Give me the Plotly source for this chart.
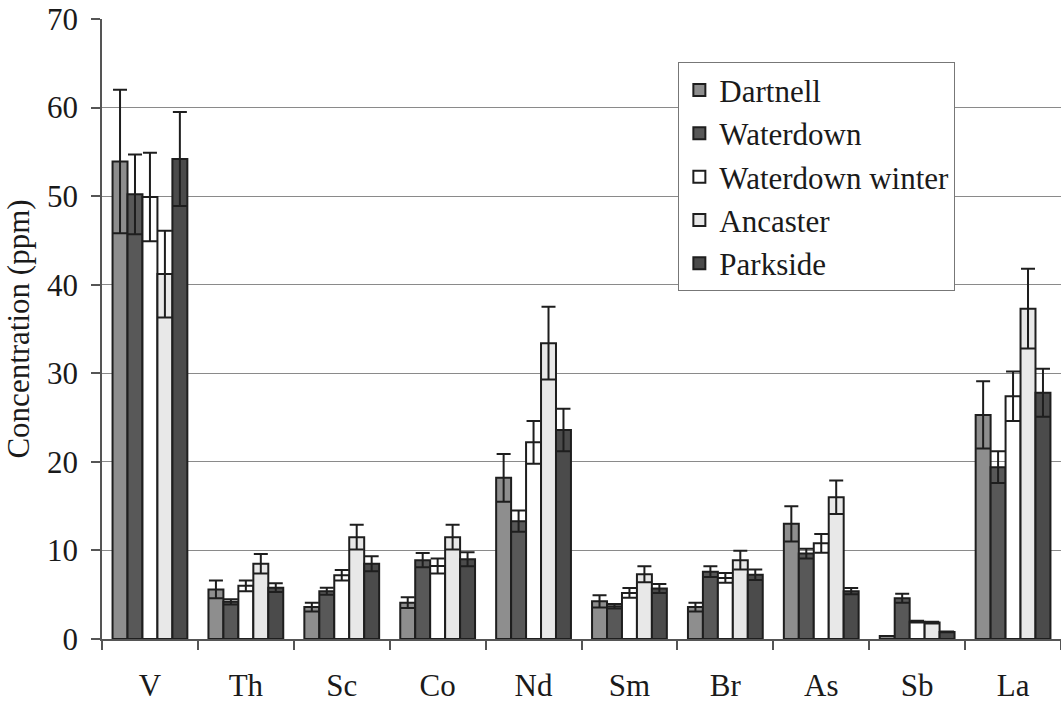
import plotly.graph_objects as go

elements = ["V", "Th", "Sc", "Co", "Nd", "Sm", "Br", "As", "Sb", "La"]

series_names = ["Dartnell", "Waterdown", "Waterdown winter", "Ancaster", "Parkside"]

dartnell = [53.9, 5.6, 3.6, 4.1, 18.2, 4.25, 3.6, 13.0, 0.35, 25.3]
dartnell_err = [8.1, 1.0, 0.5, 0.6, 2.7, 0.7, 0.5, 2.0, 0.0, 3.8]

waterdown = [50.2, 4.2, 5.4, 8.9, 13.3, 3.7, 7.6, 9.65, 4.6, 19.4]
waterdown_err = [4.5, 0.3, 0.4, 0.8, 1.2, 0.25, 0.6, 0.55, 0.5, 1.8]

waterdown_winter = [49.9, 6.0, 7.2, 8.25, 22.2, 5.2, 6.9, 10.8, 1.95, 27.4]
waterdown_winter_err = [5.0, 0.6, 0.6, 0.85, 2.4, 0.55, 0.55, 1.05, 0.1, 2.8]

ancaster = [41.2, 8.5, 11.5, 11.5, 33.4, 7.3, 8.9, 16.0, 1.85, 37.3]
ancaster_err = [4.9, 1.1, 1.4, 1.4, 4.1, 0.9, 1.05, 1.9, 0.1, 4.5]

parkside = [54.2, 5.8, 8.5, 9.0, 23.6, 5.7, 7.25, 5.4, 0.8, 27.8]
parkside_err = [5.3, 0.5, 0.85, 0.8, 2.4, 0.5, 0.6, 0.35, 0.05, 2.7]

values = [dartnell, waterdown, waterdown_winter, ancaster, parkside]
errors = [dartnell_err, waterdown_err, waterdown_winter_err, ancaster_err, parkside_err]
fills = ["#8e8e8e", "#585858", "#ffffff", "#e8e8e8", "#4b4b4b"]

FONT = "Times New Roman, Liberation Serif, serif"

fig = go.Figure()
for name, vals, errs, col in zip(series_names, values, errors, fills):
    fig.add_trace(go.Bar(
        name=name, x=elements, y=vals,
        marker=dict(color=col, line=dict(color="#1e1e1e", width=2)),
        error_y=dict(type="data", array=errs, visible=True,
                     color="#1e1e1e", thickness=2, width=7),
    ))

fig.update_layout(
    width=1061, height=704,
    margin=dict(l=102, r=0, t=19, b=65),
    paper_bgcolor="white", plot_bgcolor="white",
    barmode="group", bargap=0.22, bargroupgap=0,
    font=dict(family=FONT, size=31, color="#1a1a1a"),
    showlegend=True,
    legend=dict(
        x=0.601, y=0.93, xanchor="left", yanchor="top",
        bgcolor="white", bordercolor="#777", borderwidth=1,
        font=dict(family=FONT, size=31, color="#1a1a1a"),
        itemwidth=30, tracegroupgap=0,
    ),
)

fig.update_xaxes(
    type="category", showline=True, linecolor="#555", linewidth=1.5,
    ticks="outside", tickson="boundaries", ticklen=9, tickcolor="#555", tickwidth=1.5,
    showgrid=False, tickfont=dict(family=FONT, size=31), ticklabelstandoff=18,
)
fig.update_yaxes(
    range=[0, 70], dtick=10, showline=True, linecolor="#555", linewidth=1.5,
    ticks="outside", ticklen=9, tickcolor="#555", tickwidth=1.5,
    showgrid=True, gridcolor="#8a8a8a", gridwidth=1,
    tickfont=dict(family=FONT, size=31), zeroline=False, ticklabelstandoff=7,
    title=dict(text="Concentration (ppm)", font=dict(family=FONT, size=31), standoff=8),
)

fig.write_html("out.html")
